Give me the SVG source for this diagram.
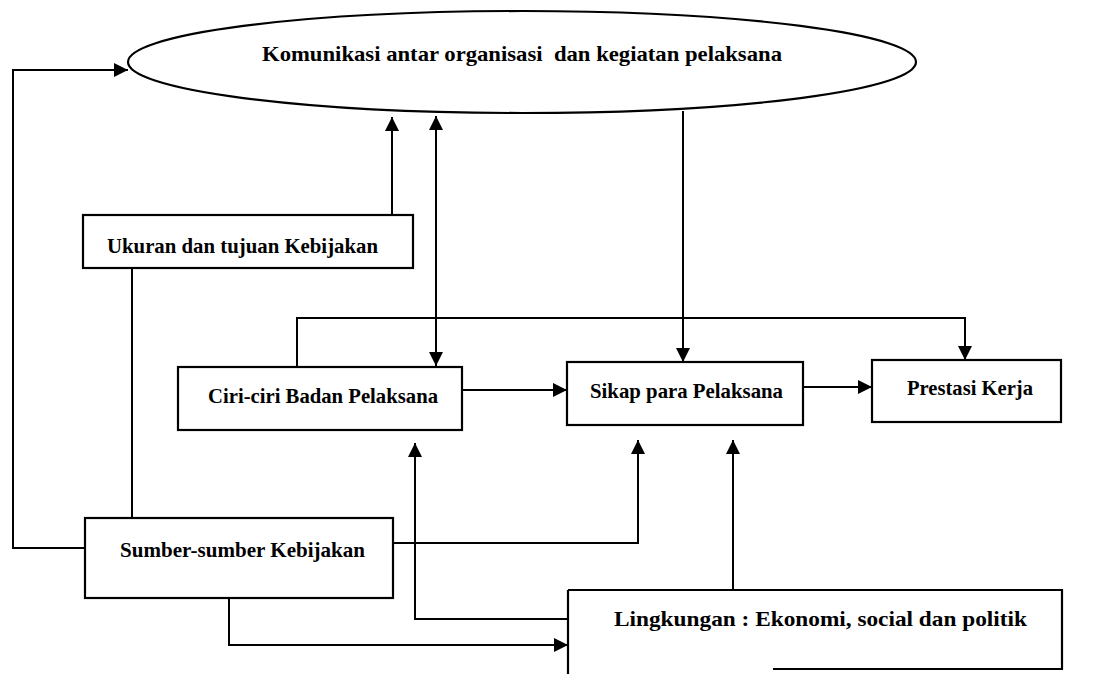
<svg xmlns="http://www.w3.org/2000/svg" width="1105" height="674" viewBox="0 0 1105 674">
<style>
.box{fill:#fff;stroke:#000;stroke-width:2.2}
.lbl{font-family:"Liberation Serif","Times New Roman",serif;font-weight:bold;font-size:21px;fill:#000}
.con{fill:none;stroke:#000;stroke-width:2}
</style>
<defs>
<marker id="ah" markerUnits="userSpaceOnUse" markerWidth="16" markerHeight="14" refX="14" refY="7" orient="auto-start-reverse">
<path d="M0,0 L14,7 L0,14 z" fill="#000"/>
</marker>
</defs>
<rect width="1105" height="674" fill="#fff"/>
<g id="connectors">
<path class="con" d="M85,548 H13 V70 H128" marker-end="url(#ah)"/>
<path class="con" d="M392,215 V117" marker-end="url(#ah)"/>
<path class="con" d="M436,116 V366" marker-start="url(#ah)" marker-end="url(#ah)"/>
<path class="con" d="M683,111 V362" marker-end="url(#ah)"/>
<path class="con" d="M132,268 V518"/>
<path class="con" d="M297,367 V318 H965 V360" marker-end="url(#ah)"/>
<path class="con" d="M462,390 H567" marker-end="url(#ah)"/>
<path class="con" d="M803,387 H872" marker-end="url(#ah)"/>
<path class="con" d="M393,543 H638 V440" marker-end="url(#ah)"/>
<path class="con" d="M733,590 V440" marker-end="url(#ah)"/>
<path class="con" d="M568,619 H415 V443" marker-end="url(#ah)"/>
<path class="con" d="M229,598 V645 H568" marker-end="url(#ah)"/>
</g>
<g id="komunikasi">
<ellipse class="box" cx="522" cy="62" rx="394" ry="51"/>
<text class="lbl" x="262" y="61" textLength="520" lengthAdjust="spacingAndGlyphs" xml:space="preserve">Komunikasi antar organisasi  dan kegiatan pelaksana</text>
</g>
<g id="ukuran">
<rect class="box" x="83" y="215" width="330" height="53"/>
<text class="lbl" x="107" y="253" textLength="271" lengthAdjust="spacingAndGlyphs">Ukuran dan tujuan Kebijakan</text>
</g>
<g id="ciri">
<rect class="box" x="178" y="367" width="284" height="63"/>
<text class="lbl" x="208" y="403" textLength="230" lengthAdjust="spacingAndGlyphs">Ciri-ciri Badan Pelaksana</text>
</g>
<g id="sikap">
<rect class="box" x="567" y="362" width="236" height="63"/>
<text class="lbl" x="590" y="398" textLength="193" lengthAdjust="spacingAndGlyphs">Sikap para Pelaksana</text>
</g>
<g id="prestasi">
<rect class="box" x="872" y="360" width="189" height="62"/>
<text class="lbl" x="907" y="395" textLength="126" lengthAdjust="spacingAndGlyphs">Prestasi Kerja</text>
</g>
<g id="sumber">
<rect class="box" x="85" y="518" width="308" height="80"/>
<text class="lbl" x="120" y="557" textLength="245" lengthAdjust="spacingAndGlyphs">Sumber-sumber Kebijakan</text>
</g>
<g id="lingkungan">
<path d="M568,590 H1062 V669 H773 M568,590 V674" fill="none" stroke="#000" stroke-width="2.2"/>
<text class="lbl" x="614" y="626" textLength="413" lengthAdjust="spacingAndGlyphs">Lingkungan : Ekonomi, social dan politik</text>
</g>
</svg>
